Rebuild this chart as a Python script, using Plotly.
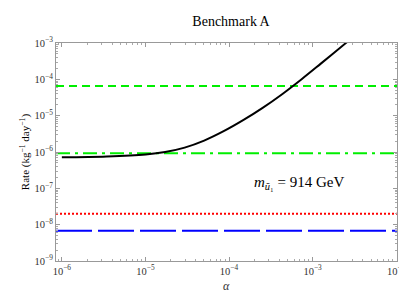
import plotly.graph_objects as go

# Data
alpha = [1e-6, 3.44e-6, 1.007e-5, 1.722e-5, 2.946e-5, 5.04e-5, 8.63e-5, 1.476e-4,
         2.525e-4, 4.32e-4, 7.39e-4, 1.265e-3, 2.543e-3, 3.70e-3]
rate = [7.14e-7, 7.56e-7, 8.58e-7, 9.99e-7, 1.32e-6, 2.06e-6, 3.73e-6, 7.50e-6,
        1.636e-5, 3.90e-5, 1.008e-4, 2.745e-4, 1.026e-3, 2.08e-3]

x_span = [10**-6.07, 10**-1.99]
green_dashed = 6.6e-5
green_dashdot = 9.3e-7
red_dotted = 2.0e-8
blue_longdash = 6.8e-9

x_ticks = [1e-6, 1e-5, 1e-4, 1e-3, 1e-2]
x_labels = ["10<sup>−6</sup>", "10<sup>−5</sup>", "10<sup>−4</sup>", "10<sup>−3</sup>", "10<sup>−2</sup>"]
y_ticks = [1e-9, 1e-8, 1e-7, 1e-6, 1e-5, 1e-4, 1e-3]
y_labels = ["10<sup>−9</sup>", "10<sup>−8</sup>", "10<sup>−7</sup>", "10<sup>−6</sup>",
            "10<sup>−5</sup>", "10<sup>−4</sup>", "10<sup>−3</sup>"]

fig = go.Figure()
fig.add_trace(go.Scatter(x=x_span, y=[green_dashed]*2, mode="lines",
                         line=dict(color="#00ee00", width=2, dash="8px,5px")))
fig.add_trace(go.Scatter(x=x_span, y=[green_dashdot]*2, mode="lines",
                         line=dict(color="#00ee00", width=2, dash="14px,5px,3px,5px")))
fig.add_trace(go.Scatter(x=x_span, y=[red_dotted]*2, mode="lines",
                         line=dict(color="#ff0000", width=2, dash="2px,2px")))
fig.add_trace(go.Scatter(x=x_span, y=[blue_longdash]*2, mode="lines",
                         line=dict(color="#0000ff", width=2, dash="36px,6px")))
fig.add_trace(go.Scatter(x=alpha, y=rate, mode="lines", line_shape="spline",
                         line=dict(color="black", width=2, smoothing=1.0)))

font = "Liberation Serif, Times New Roman, serif"
axis_common = dict(
    type="log", showline=True, linecolor="#999999", linewidth=1, mirror="allticks",
    ticks="inside", ticklen=4, tickcolor="#999999", showgrid=False, zeroline=False,
    tickfont=dict(family=font, size=10.5, color="#333333"),
    minor=dict(ticks="inside", ticklen=2, tickcolor="#aaaaaa", showgrid=False, dtick="D1"),
)

fig.update_layout(
    width=407, height=293,
    margin=dict(l=48, r=9, t=35, b=40),
    paper_bgcolor="white", plot_bgcolor="white",
    showlegend=False,
    title=dict(text="Benchmark A", x=0.548, xanchor="center", y=0.955, yanchor="middle",
               font=dict(family=font, size=14, color="black")),
    xaxis=dict(range=[-6.07, -1.99], tickvals=x_ticks, ticktext=x_labels, **axis_common),
    yaxis=dict(range=[-9, -3], tickvals=y_ticks, ticktext=y_labels,
               title=dict(text="Rate (kg<sup>−1</sup> day<sup>−1</sup>)",
                          font=dict(family=font, size=11, color="black"), standoff=2),
               **axis_common),
    annotations=[
        dict(text="<i>m</i><sub><i>ũ</i>₁</sub> = 914 GeV",
             x=0.714, y=0.36, xref="paper", yref="paper", showarrow=False,
             xanchor="center", yanchor="middle",
             font=dict(family=font, size=15, color="black")),
        dict(text="<i>α</i>", x=0.5, y=-0.115, xref="paper", yref="paper",
             showarrow=False, xanchor="center", yanchor="middle",
             font=dict(family=font, size=12, color="#333333")),
    ],
)

fig.write_html("out.html")
